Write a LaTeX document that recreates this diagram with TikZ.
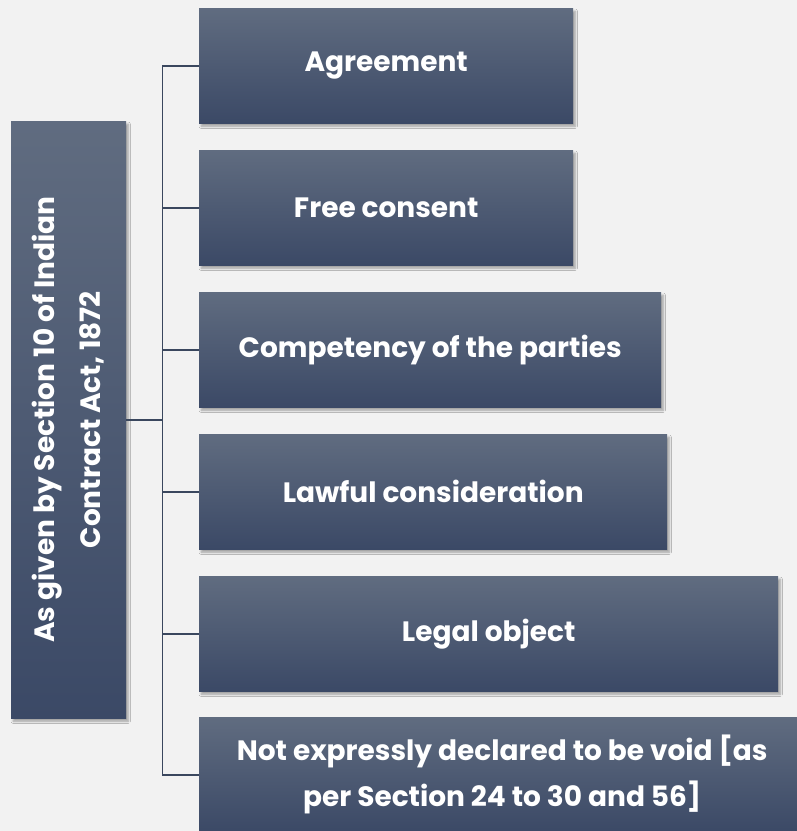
\documentclass[tikz,border=0pt]{standalone}
\usepackage{fontspec}
\setmainfont{Poppins}
\usepackage{tikz}
\usetikzlibrary{positioning,shadows.blur}
\definecolor{slateTop}{HTML}{606C80}
\definecolor{slateBot}{HTML}{3B4966}
\definecolor{slateLine}{HTML}{3A475E}
\definecolor{pageGray}{HTML}{F2F2F2}

\begin{document}
\begin{tikzpicture}[x=1pt,y=-1pt,
  card/.style={anchor=north west, inner sep=0pt, minimum height=115pt,
    top color=slateTop, bottom color=slateBot, text=white, align=center,
    font=\fontsize{28}{46}\selectfont\bfseries,
    blur shadow={shadow xshift=2pt, shadow yshift=-3pt, shadow blur steps=6, shadow opacity=35}},
  link/.style={draw=slateLine, line width=1.8pt}]
\fill[pageGray] (0,0) rectangle (797,831);
\useasboundingbox (0,0) rectangle (797,831);
% the act, on the left
\node[card, minimum width=115pt, minimum height=597pt] (act) at (11,121)
  {\rotatebox{90}{\begin{tabular}{@{}c@{}}As given by Section 10 of Indian\\Contract Act, 1872\end{tabular}}};
% the six essentials
\foreach \n/\y/\w/\t in {1/8/374/Agreement, 2/150/374/Free consent,
    3/292/462/Competency of the parties, 4/434/468/Lawful consideration,
    5/576/579/Legal object,
    6/717/606/{Not expressly declared to be void [as\\per Section 24 to 30 and 56]}}{
  \node[card, minimum width=\w pt] (ess\n) at (199,\y) {\t};
  \draw[link] (act.east) -- ++(36,0) |- (ess\n.west);
}
\end{tikzpicture}
\end{document}
